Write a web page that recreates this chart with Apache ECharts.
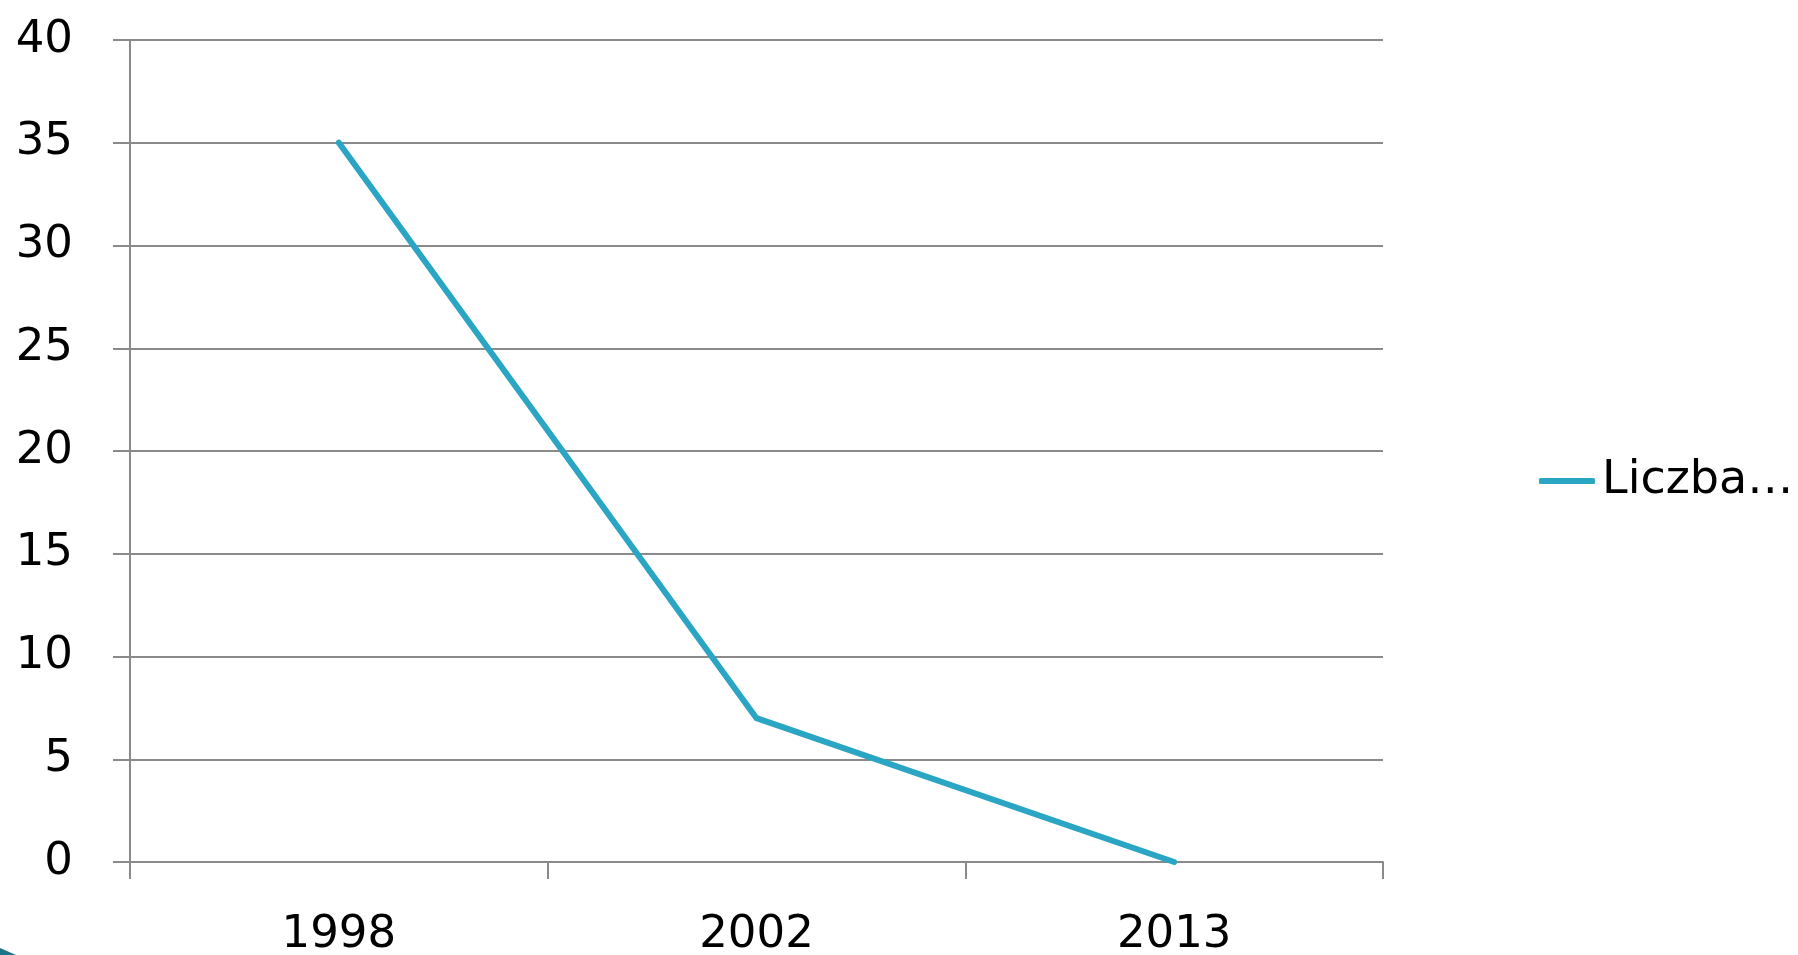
<!DOCTYPE html>
<html>
<head>
<meta charset="utf-8">
<style>
  html, body { margin: 0; padding: 0; background: #ffffff; }
  #chart { width: 1798px; height: 955px; }
</style>
<script src="https://cdn.jsdelivr.net/npm/echarts@6/dist/echarts.min.js"></script>
</head>
<body>
<div id="chart"></div>
<script>
// Categories (years) and series values
const years = ['1998', '2002', '2013'];
const seriesName = 'Liczba…';
const counts = [35, 7, 0];

// Value axis range
const yMin = 0;
const yMax = 40;
const yStep = 5;

const axisGray = '#8a8a8a';
const lineColor = '#2ba5c4';
const fontFamily = '"DejaVu Sans", sans-serif';

const chart = echarts.init(document.getElementById('chart'));
chart.setOption({
  animation: false,
  backgroundColor: '#ffffff',
  grid: {
    left: 130, top: 40, right: 415, bottom: 93,
    containLabel: false,
    outerBoundsMode: 'none'
  },
  legend: {
    data: [{ name: seriesName, icon: 'roundRect' }],
    left: 1534,
    top: 453,
    itemWidth: 56,
    itemHeight: 6,
    itemStyle: { color: lineColor },
    textStyle: { fontFamily: fontFamily, fontSize: 46, color: '#000000', padding: [0, 0, 0, 2] }
  },
  xAxis: {
    type: 'category',
    data: years,
    boundaryGap: true,
    axisLine: { show: true, lineStyle: { color: axisGray, width: 2 } },
    axisTick: { show: true, length: 17, interval: 0, lineStyle: { color: axisGray, width: 2 } },
    axisLabel: { margin: 51, fontFamily: fontFamily, fontSize: 45, color: '#000000' },
    splitLine: { show: false }
  },
  yAxis: {
    type: 'value',
    min: yMin,
    max: yMax,
    interval: yStep,
    axisLine: { show: true, lineStyle: { color: axisGray, width: 2 } },
    axisTick: { show: true, length: 17, lineStyle: { color: axisGray, width: 2 } },
    axisLabel: {
      margin: 57,
      fontFamily: fontFamily,
      fontSize: 45,
      color: '#000000',
      padding: [0, 0, 12, 0]
    },
    splitLine: { show: true, lineStyle: { color: axisGray, width: 2 } }
  },
  series: [{
    name: seriesName,
    type: 'line',
    data: counts,
    symbol: 'none',
    lineStyle: { color: lineColor, width: 6, cap: 'round', join: 'round' },
    itemStyle: { color: lineColor }
  }],
  graphic: [{
    type: 'polygon',
    shape: { points: [[0, 948], [16, 955], [0, 955]] },
    style: { fill: '#1b7488' },
    silent: true
  }]
});
</script>
</body>
</html>
